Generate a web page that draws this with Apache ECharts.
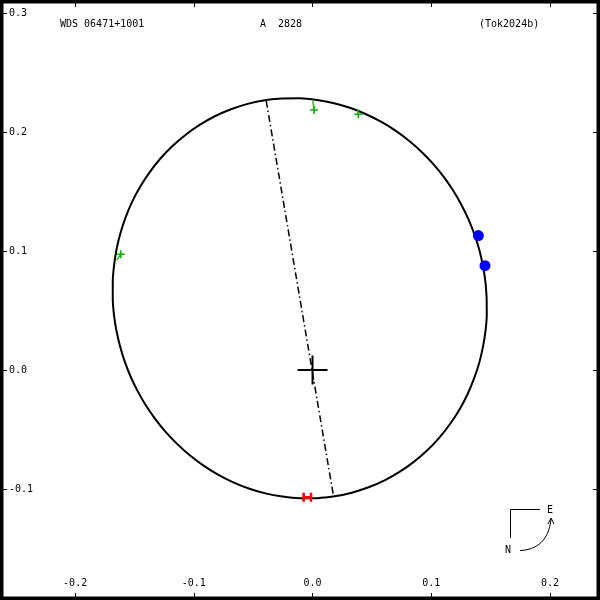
<!DOCTYPE html>
<html><head><meta charset="utf-8">
<script src="https://cdn.jsdelivr.net/npm/echarts@6/dist/echarts.min.js"></script>
<style>html,body{margin:0;padding:0;background:#fff}#c{width:600px;height:600px}</style>
</head><body><div id="c"></div>
<script>
// Orbit curve (x = separation E-W, y = N-S, arcsec)
const orbitX = [0.1467, 0.1468, 0.1457, 0.1435, 0.1403, 0.1358, 0.1303, 0.1236, 0.1157, 0.1067,
  0.0967, 0.0856, 0.0736, 0.0607, 0.0472, 0.0331, 0.0186, 0.0040, -0.0108, -0.0254,
  -0.0398, -0.0537, -0.0672, -0.0800, -0.0921, -0.1034, -0.1139, -0.1236, -0.1323, -0.1402,
  -0.1471, -0.1531, -0.1581, -0.1621, -0.1652, -0.1673, -0.1683, -0.1683, -0.1672, -0.1651,
  -0.1618, -0.1574, -0.1519, -0.1451, -0.1373, -0.1283, -0.1182, -0.1071, -0.0951, -0.0823,
  -0.0687, -0.0547, -0.0402, -0.0255, -0.0108, 0.0038, 0.0182, 0.0321, 0.0456, 0.0584,
  0.0705, 0.0818, 0.0924, 0.1020, 0.1107, 0.1186, 0.1255, 0.1315, 0.1365, 0.1406,
  0.1436, 0.1457];
const orbitY = [0.0603, 0.0465, 0.0327, 0.0190, 0.0054, -0.0079, -0.0210, -0.0336, -0.0456, -0.0570,
  -0.0675, -0.0770, -0.0854, -0.0927, -0.0986, -0.1031, -0.1062, -0.1077, -0.1078, -0.1064,
  -0.1037, -0.0996, -0.0942, -0.0877, -0.0802, -0.0717, -0.0623, -0.0522, -0.0415, -0.0301,
  -0.0182, -0.0059, 0.0068, 0.0198, 0.0331, 0.0466, 0.0603, 0.0740, 0.0878, 0.1015,
  0.1151, 0.1285, 0.1415, 0.1541, 0.1661, 0.1775, 0.1880, 0.1975, 0.2059, 0.2132,
  0.2191, 0.2236, 0.2267, 0.2282, 0.2283, 0.2269, 0.2242, 0.2201, 0.2147, 0.2082,
  0.2007, 0.1922, 0.1828, 0.1727, 0.1620, 0.1506, 0.1387, 0.1264, 0.1137, 0.1007,
  0.0874, 0.0739];
// Line of nodes
const nodeLineX = [-0.0390, 0.0175];
const nodeLineY = [0.2262, -0.1050];
// Primary star
const primaryX = [0];
const primaryY = [0];
// Green "+" measurements and their predicted positions on the orbit
const plusObsX = [0.0013, 0.0386, -0.1616];
const plusObsY = [0.2185, 0.2149, 0.0972];
const plusOrbitX = [0.0002, 0.0379, -0.1650];
const plusOrbitY = [0.2262, 0.2190, 0.0924];
// Blue filled-circle measurements
const dotObsX = [0.1397, 0.1453];
const dotObsY = [0.1129, 0.0876];
// Red marker
const markX = [-0.0044];
const markY = [-0.1070];
// Axes
const xTicks = [-0.2, -0.1, 0.0, 0.1, 0.2];
const yTicks = [-0.1, 0.0, 0.1, 0.2, 0.3];
const xRange = [-0.2633, 0.2422];
const yRange = [-0.1933, 0.3109];
const titleLeft = 'WDS 06471+1001';
const titleMid = 'A  2828';
const titleRight = '(Tok2024b)';

const zip = (a, b) => a.map((v, i) => [v, b[i]]);
const fmt = v => Number(v).toFixed(1);
const FONT = 'DejaVu Sans Mono';
const orbitPts = zip(orbitX, orbitY);
orbitPts.push(orbitPts[0]);

const tickStyle = {inside: true, length: 7, lineStyle: {color: '#000', width: 1}};
function xAx(pos, showLabel) {
  return {type: 'value', position: pos, min: xRange[0], max: xRange[1],
    axisLine: {show: false, onZero: false}, splitLine: {show: false},
    axisTick: Object.assign({customValues: xTicks}, tickStyle),
    axisLabel: {show: showLabel, inside: true, margin: 12, customValues: xTicks, formatter: fmt,
      fontFamily: FONT, fontSize: 10, color: '#000'}};
}
function yAx(pos, showLabel) {
  return {type: 'value', position: pos, min: yRange[0], max: yRange[1],
    axisLine: {show: false, onZero: false}, splitLine: {show: false},
    axisTick: Object.assign({customValues: yTicks}, tickStyle),
    axisLabel: {show: showLabel, inside: true, margin: 9, customValues: yTicks, formatter: fmt,
      fontFamily: FONT, fontSize: 10, color: '#000'}};
}

const series = [
  {type: 'line', data: orbitPts, smooth: 0.3, showSymbol: false, silent: true,
   lineStyle: {color: '#000', width: 2}, z: 3},
  {type: 'line', data: zip(nodeLineX, nodeLineY), showSymbol: false, silent: true,
   lineStyle: {color: '#000', width: 1.5, type: [7, 3, 1.5, 3]}, z: 3},
  {type: 'scatter', data: zip(primaryX, primaryY), silent: true,
   symbol: 'path://M14,0h2v30h-2z M0,14h30v2h-30z', symbolSize: [30, 29],
   itemStyle: {color: '#000', opacity: 1}, z: 4},
  {type: 'scatter', data: zip(dotObsX, dotObsY), symbol: 'circle', symbolSize: 11, silent: true,
   itemStyle: {color: '#0000ff', opacity: 1}, z: 5},
  {type: 'scatter', data: zip(plusObsX, plusObsY), silent: true,
   symbol: 'path://M3.6,0h1.8v9h-1.8z M0,3.6h9v1.8h-9z', symbolSize: 8,
   itemStyle: {color: '#00b000', opacity: 1}, z: 6},
  {type: 'scatter', data: zip(markX, markY), silent: true,
   symbol: 'path://M0,0h2.6v3.2h4.8v-3.2h2.6v9h-2.6v-3h-4.8v3h-2.6z', symbolSize: [10, 9],
   itemStyle: {color: '#ff0000', opacity: 1}, z: 6}
];
plusObsX.forEach((x, i) => {
  series.push({type: 'line', data: [[plusOrbitX[i], plusOrbitY[i]], [x, plusObsY[i]]],
    showSymbol: false, silent: true, lineStyle: {color: '#00b000', width: 1.2}, z: 5});
});

const chart = echarts.init(document.getElementById('c'), null, {renderer: 'canvas'});
chart.setOption({
  animation: false,
  backgroundColor: '#fff',
  grid: {left: 0, right: 0, top: 0, bottom: 0, containLabel: false},
  xAxis: [xAx('bottom', true), xAx('top', false)],
  yAxis: [yAx('left', true), yAx('right', false)],
  series: series,
  graphic: [
    {type: 'text', left: 60, top: 19, z: 50, style: {text: titleLeft, font: '10px "DejaVu Sans Mono"', fill: '#000'}},
    {type: 'text', left: 260, top: 19, z: 50, style: {text: titleMid, font: '10px "DejaVu Sans Mono"', fill: '#000'}},
    {type: 'text', left: 479, top: 19, z: 50, style: {text: titleRight, font: '10px "DejaVu Sans Mono"', fill: '#000'}},
    {type: 'polyline', z: 50, shape: {points: [[540, 509.5], [510.5, 509.5], [510.5, 538]]}, style: {stroke: '#000', lineWidth: 1, fill: null}},
    {type: 'text', z: 50, x: 550, y: 510, style: {text: 'E', font: '10px "DejaVu Sans Mono"', fill: '#000', align: 'center', verticalAlign: 'middle'}},
    {type: 'text', z: 50, x: 508, y: 550, style: {text: 'N', font: '10px "DejaVu Sans Mono"', fill: '#000', align: 'center', verticalAlign: 'middle'}},
    {type: 'bezierCurve', z: 50, shape: {x1: 520, y1: 550.5, cpx1: 537, cpy1: 550, cpx2: 549, cpy2: 540, x2: 551, y2: 519}, style: {stroke: '#000', lineWidth: 1, fill: null}},
    {type: 'polyline', z: 50, shape: {points: [[548, 524], [551, 518], [554, 524]]}, style: {stroke: '#000', lineWidth: 1, fill: null}},
    {type: 'rect', z: 100, shape: {x: 0, y: 0, width: 600, height: 600}, style: {stroke: '#000', lineWidth: 7, fill: null}}
  ]
});
</script></body></html>
